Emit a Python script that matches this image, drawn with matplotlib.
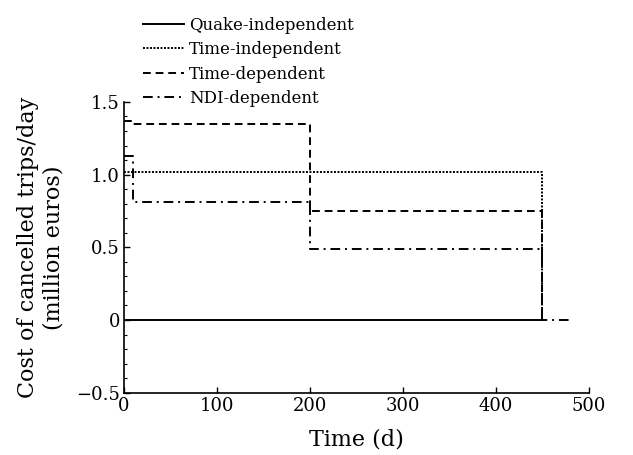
import matplotlib
matplotlib.use('Agg')
import matplotlib.pyplot as plt
from matplotlib.ticker import MultipleLocator

# step data: (time breakpoints, level values)
t_quake = [0, 450]
v_quake = [0, 0]

t_time_indep = [0, 5, 450, 450]
v_time_indep = [1.02, 1.02, 1.02, 0]

t_time_dep = [0, 8, 200, 450, 450]
v_time_dep = [1.37, 1.35, 0.75, 0.75, 0]

t_ndi = [0, 10, 200, 450, 480]
v_ndi = [1.13, 0.81, 0.49, 0.0, 0.0]

labels = ['Quake-independent', 'Time-independent', 'Time-dependent', 'NDI-dependent']
xticks = [0, 100, 200, 300, 400, 500]
yticks = [-0.5, 0, 0.5, 1.0, 1.5]
ytick_labels = ['\u22120.5', '0', '0.5', '1.0', '1.5']

plt.rcParams['font.family'] = ['DejaVu Serif']
plt.rcParams['font.size'] = 13

fig = plt.figure(figsize=(6.33, 4.55), dpi=100)
ax = fig.add_axes([0.196, 0.137, 0.734, 0.639])

lw = 1.4
h1, = ax.plot(t_quake, v_quake, color='black', lw=lw, ls='-')
h2, = ax.step(t_time_indep, v_time_indep, where='post', color='black', lw=lw, ls=(0, (1, 0.8)))
h3, = ax.step(t_time_dep, v_time_dep, where='post', color='black', lw=lw, ls=(0, (4, 2.5)))
h4, = ax.step(t_ndi, v_ndi, where='post', color='black', lw=lw, ls=(0, (5, 2.5, 1, 2.5)))

ax.set_xlim(0, 500)
ax.set_ylim(-0.5, 1.5)
ax.set_xticks(xticks)
ax.set_yticks(yticks)
ax.set_yticklabels(ytick_labels)
ax.yaxis.set_minor_locator(MultipleLocator(0.1))
ax.tick_params(direction='in', length=4, width=1, pad=3)
ax.tick_params(which='minor', direction='in', length=2, width=0.8)
ax.spines['top'].set_visible(False)
ax.spines['right'].set_visible(False)
for s in ('left', 'bottom'):
    ax.spines[s].set_linewidth(1.2)

ax.set_xlabel('Time (d)', fontsize=16, labelpad=10)
ax.set_ylabel('Cost of cancelled trips/day\n(million euros)', fontsize=16,
              linespacing=1.25, labelpad=8)

fig.legend([h1, h2, h3, h4], labels, loc='upper left',
           bbox_to_anchor=(0.212, 0.982), frameon=False,
           handlelength=2.5, handletextpad=0.3, labelspacing=0.45,
           borderaxespad=0.1, fontsize=12)

fig.savefig('out.png', dpi=100)
